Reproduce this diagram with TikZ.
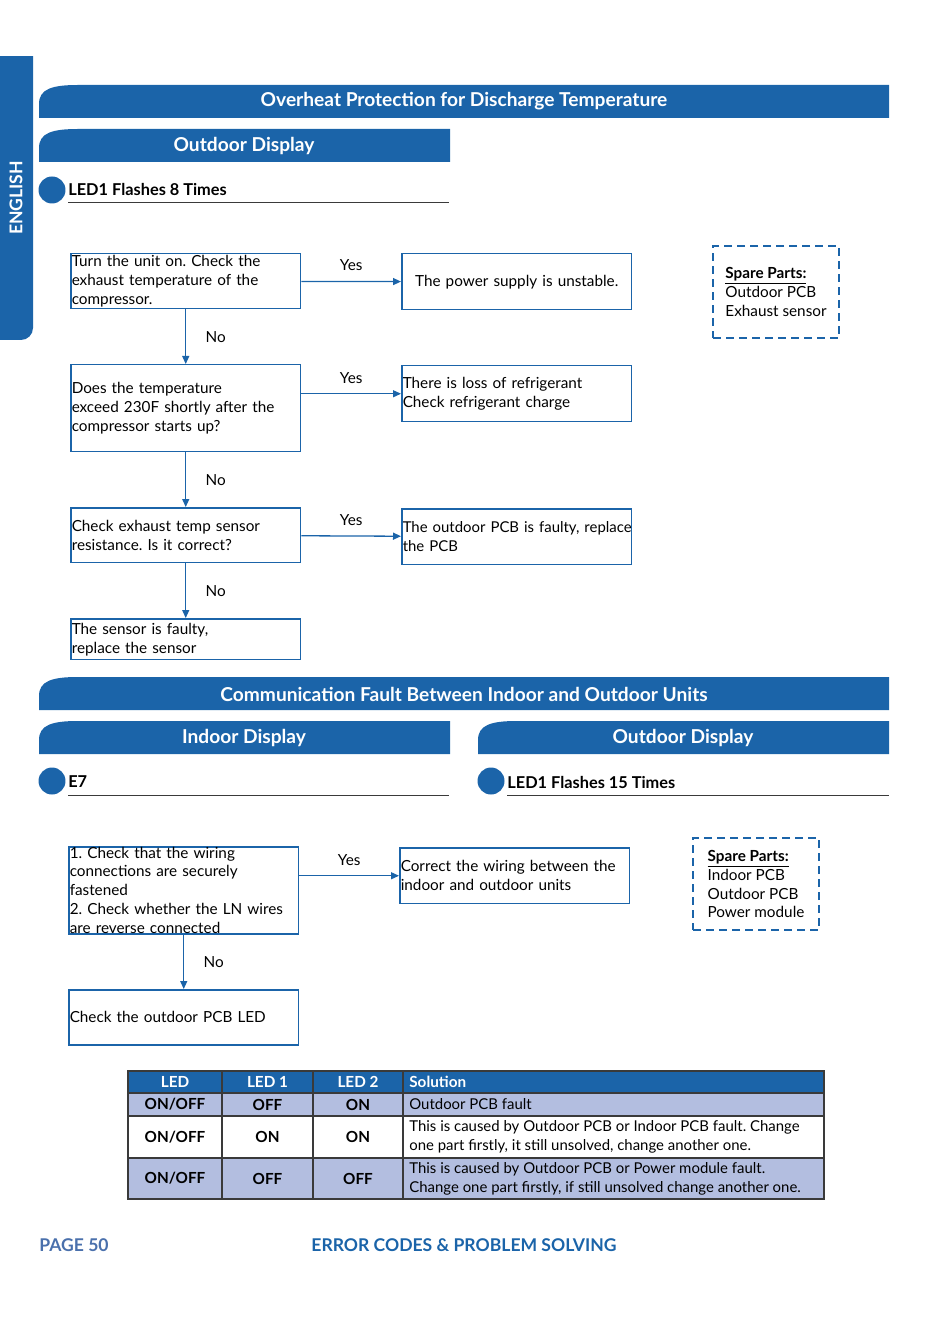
\documentclass[tikz,border=0pt]{standalone}
\usepackage{fontspec}
\setmainfont{Lato}
\usepackage{xcolor}
\usepackage{tikz}
\usetikzlibrary{arrows.meta, positioning, shapes}

\definecolor{mblue}{HTML}{1B64A9}
\definecolor{lav}{HTML}{B3BEE0}
\definecolor{pgblue}{HTML}{4A70AC}
\definecolor{rulegrey}{HTML}{3A3A3A}
\frenchspacing

\begin{document}
\begin{tikzpicture}[x=0.02cm, y=-0.02cm,
  banner/.style={fill=mblue},
  bannertext/.style={text=white, font=\fontsize{10.9}{13}\selectfont\bfseries},
  flowbox/.style={draw=mblue, line width=0.03cm, rectangle, anchor=north west, minimum width=4.6cm, text width=4.56cm, inner xsep=0.02cm, inner ysep=0pt, align=left, font=\fontsize{8.7}{10.8}\selectfont},
  flow/.style={draw=mblue, line width=0.026cm, -{Triangle[length=0.16cm,width=0.14cm]}},
  lbl/.style={font=\fontsize{8.7}{10.8}\selectfont},
  dot/.style={circle, fill=mblue, minimum size=0.54cm, inner sep=0pt},
  subtitle/.style={anchor=west, inner sep=0pt, font=\fontsize{9.3}{11}\selectfont\bfseries},
  spare/.style={draw=mblue, line width=0.05cm, dash pattern=on 0.16cm off 0.1cm, minimum width=2.52cm, minimum height=1.84cm, align=left, font=\fontsize{8.7}{10.8}\selectfont},
  cell/.style={font=\fontsize{8.7}{10.8}\selectfont\bfseries},
  soltext/.style={anchor=west, align=left, inner sep=0pt, font=\fontsize{8.5}{10.8}\selectfont},
]
\useasboundingbox (0,0) rectangle (950,1337);

% side tab
\begin{scope}
\clip (0,57) rectangle (33,340);
\fill[mblue, rounded corners=0.24cm] (-20,20) rectangle (33,340);
\end{scope}
\node[rotate=90, text=white, font=\fontsize{10}{12}\selectfont\bfseries] (lang) at (16,198) {ENGLISH};

% overheat section
\fill[banner] (39,118) -- (39,104) .. controls (39,89) and (52,85) .. (78,85) -- (889,85) -- (889,118) -- cycle;
\node[bannertext] (h1) at (464,101) {Overheat Protection for Discharge Temperature};
\fill[banner] (39,162) -- (39,148) .. controls (39,133) and (52,129) .. (78,129) -- (450,129) -- (450,162) -- cycle;
\node[bannertext] (h2) at (244,146) {Outdoor Display};
\node[dot] (d1) at (52,190) {};
\node[subtitle] (t1) at (68,190) {LED1 Flashes 8 Times};
\draw[rulegrey, line width=0.02cm] (68,203) -- (449,203);

\node[flowbox, minimum height=1.1cm] (q1) at (70,253) {Turn the unit on. Check the\\exhaust temperature of the\\compressor.};
\node[flowbox, minimum height=1.12cm, align=center] (a1) at (401,253) {The power supply is unstable.};
\node[flowbox, minimum height=1.74cm] (q2) at (70,364) {Does the temperature\\exceed 230F shortly after the\\compressor starts up?};
\node[flowbox, minimum height=1.12cm] (a2) at (401,365) {There is loss of refrigerant\\Check refrigerant charge};
\node[flowbox, minimum height=1.1cm] (q3) at (70,507) {Check exhaust temp sensor\\resistance. Is it correct?};
\node[flowbox, minimum height=1.12cm, font=\fontsize{8.5}{10.8}\selectfont] (a3) at (401,508) {\mbox{The outdoor PCB is faulty, replace}\\the PCB};
\node[flowbox, minimum height=0.82cm] (q4) at (70,618) {The sensor is faulty,\\replace the sensor};

\draw[flow] (q1) -- node[lbl, midway, above=0.08cm] (y1) {Yes} (a1);
\draw[flow] (q2.east |- a2) -- node[lbl, midway, above=0.08cm] (y2) {Yes} (a2);
\draw[flow] (q3) -- node[lbl, midway, above=0.08cm] (y3) {Yes} (a3);
\draw[flow] (q1) -- node[lbl, midway, right=0.27cm] (n1) {No} (q2);
\draw[flow] (q2) -- node[lbl, midway, right=0.27cm] (n2) {No} (q3);
\draw[flow] (q3) -- node[lbl, midway, right=0.27cm] (n3) {No} (q4);

\node[spare] (sp1) at (776,292) {\textbf{\underline{Spare Parts:}}\\Outdoor PCB\\Exhaust sensor};

% communication section
\fill[banner] (39,710) -- (39,696) .. controls (39,681) and (52,677) .. (78,677) -- (889,677) -- (889,710) -- cycle;
\node[bannertext] (h3) at (464,694) {Communication Fault Between Indoor and Outdoor Units};
\fill[banner] (39,754) -- (39,740) .. controls (39,725) and (52,721) .. (78,721) -- (450,721) -- (450,754) -- cycle;
\node[bannertext] (h4) at (244,738) {Indoor Display};
\fill[banner] (478,754) -- (478,740) .. controls (478,725) and (491,721) .. (517,721) -- (889,721) -- (889,754) -- cycle;
\node[bannertext] (h5) at (683,738) {Outdoor Display};
\node[dot] (d2) at (52,781) {};
\node[subtitle] (t2) at (68,782) {E7};
\draw[rulegrey, line width=0.02cm] (68,795) -- (449,795);
\node[dot] (d3) at (491,781) {};
\node[subtitle] (t3) at (507,782) {LED1 Flashes 15 Times};
\draw[rulegrey, line width=0.02cm] (507,795) -- (889,795);

\node[flowbox, minimum height=1.74cm] (c1) at (68,846) {1. Check that the wiring\\connections are securely\\fastened\\2. Check whether the LN wires\\are reverse connected};
\node[flowbox, minimum height=1.12cm] (c2) at (399,847) {Correct the wiring between the\\indoor and outdoor units};
\node[flowbox, minimum height=1.1cm] (c3) at (68,989) {Check the outdoor PCB LED};

\draw[flow] (c1.east |- c2) -- node[lbl, midway, above=0.08cm] (y4) {Yes} (c2);
\draw[flow] (c1) -- node[lbl, midway, right=0.27cm] (n4) {No} (c3);

\node[spare] (sp2) at (756,884) {\textbf{\underline{Spare Parts:}}\\Indoor PCB\\Outdoor PCB\\Power module};

% table
\fill[mblue] (128,1071) rectangle (824,1093);
\fill[lav] (128,1093) rectangle (824,1116);
\fill[lav] (128,1158) rectangle (824,1199);
\foreach \y in {1093,1116,1158}
  \draw[rulegrey, line width=0.03cm] (128,\y) -- (824,\y);
\foreach \x in {222,313,403}
  \draw[rulegrey, line width=0.03cm] (\x,1071) -- (\x,1199);
\draw[rulegrey, line width=0.03cm] (128,1071) rectangle (824,1199);

\node[cell, text=white] (th1) at (175,1082) {LED};
\node[cell, text=white] (th2) at (267.5,1082) {LED 1};
\node[cell, text=white] (th3) at (358,1082) {LED 2};
\node[cell, text=white, anchor=west, inner sep=0pt] (th4) at (409,1082) {Solution};

\node[cell] (r1a) at (175,1104.5) {ON/OFF};
\node[cell] (r1b) at (267.5,1104.5) {OFF};
\node[cell] (r1c) at (358,1104.5) {ON};
\node[soltext] (r1d) at (409,1104.5) {Outdoor PCB fault};

\node[cell] (r2a) at (175,1137) {ON/OFF};
\node[cell] (r2b) at (267.5,1137) {ON};
\node[cell] (r2c) at (358,1137) {ON};
\node[soltext] (r2d) at (409,1137) {This is caused by Outdoor PCB or Indoor PCB fault. Change\\one part firstly, it still unsolved, change another one.};

\node[cell] (r3a) at (175,1178.5) {ON/OFF};
\node[cell] (r3b) at (267.5,1178.5) {OFF};
\node[cell] (r3c) at (358,1178.5) {OFF};
\node[soltext] (r3d) at (409,1178.5) {This is caused by Outdoor PCB or Power module fault.\\Change one part firstly, if still unsolved change another one.};

% footer
\node[anchor=west, inner sep=0pt, text=pgblue, font=\fontsize{10}{12}\selectfont\bfseries] (page) at (39,1245) {PAGE 50};
\node[text=mblue, font=\fontsize{10}{12}\selectfont\bfseries] (foot) at (464,1245) {ERROR CODES \& PROBLEM SOLVING};
\end{tikzpicture}
\end{document}
